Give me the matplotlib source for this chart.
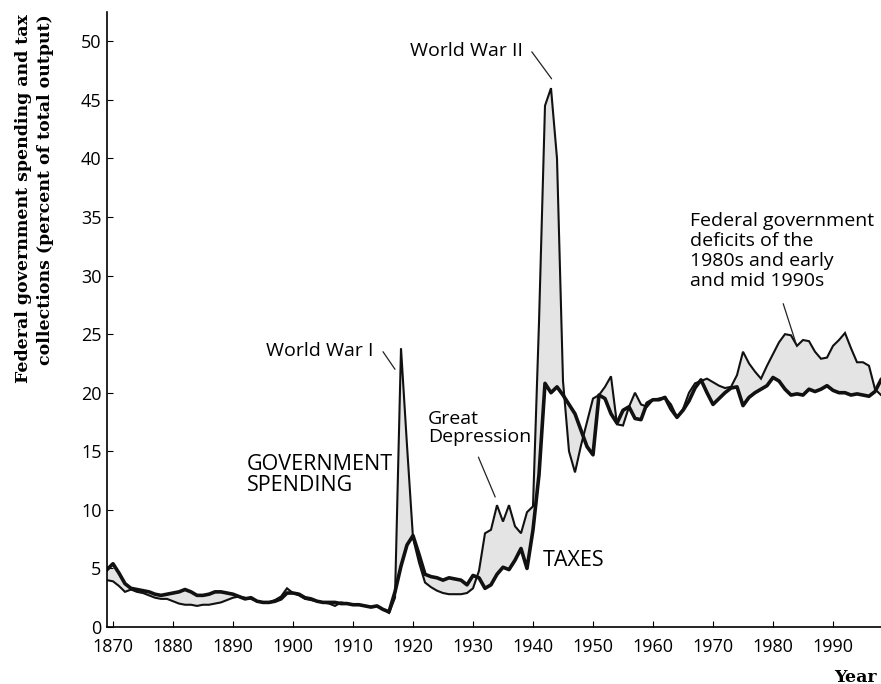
import numpy as np
import matplotlib
matplotlib.use("Agg")
import matplotlib.pyplot as plt

# ── Data (percent of total output), 1869-1998 ───────────────────────────────
years = np.arange(1869, 1999)

spending = [
    4.0, 3.9, 3.5, 3.0, 3.2, 3.0, 2.9, 2.7, 2.5, 2.4,          # 1869-1878
    2.4, 2.2, 2.0, 1.9, 1.9, 1.8, 1.9, 1.9, 2.0, 2.1,          # 1879-1888
    2.3, 2.5, 2.6, 2.5, 2.4, 2.2, 2.1, 2.1, 2.3, 2.6,          # 1889-1898
    3.3, 2.9, 2.7, 2.4, 2.3, 2.2, 2.1, 2.0, 1.8, 2.1,          # 1899-1908
    2.0, 1.9, 1.9, 1.8, 1.7, 1.8, 1.5, 1.2, 2.5, 23.8,         # 1909-1918
    15.5, 7.6, 5.5, 3.8, 3.4, 3.1, 2.9, 2.8, 2.8, 2.8,         # 1919-1928
    2.9, 3.3, 4.8, 8.0, 8.3, 10.4, 9.0, 10.4, 8.6, 8.0,        # 1929-1938
    9.8, 10.3, 26.0, 44.5, 46.0, 40.0, 21.0, 15.0, 13.2, 15.5,  # 1939-1948
    17.5, 19.5, 19.8, 20.5, 21.4, 17.3, 17.2, 18.8, 20.0, 19.0,  # 1949-1958
    18.8, 19.4, 19.5, 19.6, 19.0, 17.9, 18.6, 20.0, 20.8, 21.0,  # 1959-1968
    21.2, 20.9, 20.6, 20.4, 20.5, 21.5, 23.5, 22.5, 21.8, 21.2,  # 1969-1978
    22.3, 23.3, 24.3, 25.0, 24.9, 24.0, 24.5, 24.4, 23.5, 22.9,  # 1979-1988
    23.0, 24.0, 24.5, 25.1, 23.8, 22.6, 22.6, 22.3, 20.3, 19.8,  # 1989-1998
]

taxes = [
    4.9, 5.4, 4.6, 3.7, 3.3, 3.2, 3.1, 3.0, 2.8, 2.7,          # 1869-1878
    2.8, 2.9, 3.0, 3.2, 3.0, 2.7, 2.7, 2.8, 3.0, 3.0,          # 1879-1888
    2.9, 2.8, 2.6, 2.4, 2.5, 2.2, 2.1, 2.1, 2.2, 2.4,          # 1889-1898
    2.9, 2.9, 2.8, 2.5, 2.4, 2.2, 2.1, 2.1, 2.1, 2.0,          # 1899-1908
    2.0, 1.9, 1.9, 1.8, 1.7, 1.8, 1.5, 1.3, 3.0, 5.2,          # 1909-1918
    7.0, 7.8, 6.2, 4.5, 4.3, 4.2, 4.0, 4.2, 4.1, 4.0,          # 1919-1928
    3.6, 4.4, 4.2, 3.3, 3.6, 4.5, 5.1, 4.9, 5.7, 6.7,          # 1929-1938
    5.0, 8.3, 13.0, 20.8, 20.0, 20.5, 19.8, 19.0, 18.2, 16.8,  # 1939-1948
    15.4, 14.7, 19.8, 19.5, 18.2, 17.4, 18.5, 18.8, 17.8, 17.7,  # 1949-1958
    19.1, 19.4, 19.4, 19.6, 18.6, 17.9, 18.5, 19.3, 20.4, 21.1,  # 1959-1968
    20.0, 19.0, 19.5, 20.0, 20.4, 20.5, 18.9, 19.6, 20.0, 20.3,  # 1969-1978
    20.6, 21.3, 21.0, 20.3, 19.8, 19.9, 19.8, 20.3, 20.1, 20.3,  # 1979-1988
    20.6, 20.2, 20.0, 20.0, 19.8, 19.9, 19.8, 19.7, 20.1, 21.1,  # 1989-1998
]

x_ticks = list(range(1870, 1991, 10))
y_ticks = list(range(0, 51, 5))

SANS = "Open Sans"
SERIF = "DejaVu Serif"

fig = plt.figure(figsize=(8.81, 6.84), dpi=100)
ax = fig.add_axes([107 / 881, 57 / 684, 774 / 881, 615 / 684])

ax.fill_between(years, spending, taxes, color="#e4e4e4", lw=0)
ax.plot(years, spending, color="#111111", lw=1.5, solid_joinstyle="miter")
ax.plot(years, taxes, color="#111111", lw=2.6, solid_joinstyle="round")

ax.set_xlim(1869, 1998)
ax.set_ylim(0, 52.5)
ax.set_xticks(x_ticks)
ax.set_yticks(y_ticks)
ax.tick_params(axis="both", direction="in", length=4, width=0.8, labelsize=13)
ax.tick_params(axis="x", pad=8)
ax.tick_params(axis="y", pad=4)
for lab in ax.get_xticklabels() + ax.get_yticklabels():
    lab.set_family(SANS)
for side in ["top", "right"]:
    ax.spines[side].set_visible(False)
for side in ["left", "bottom"]:
    ax.spines[side].set_linewidth(1.2)

# axis titles
fig.text(24 / 881, 1 - 199 / 684, "Federal government spending and tax",
         rotation=90, ha="center", va="center", family=SERIF,
         fontweight="bold", fontsize=12.5)
fig.text(46 / 881, 1 - 190 / 684, "collections (percent of total output)",
         rotation=90, ha="center", va="center", family=SERIF,
         fontweight="bold", fontsize=12.5)
fig.text(855 / 881, 1 - 677 / 684, "Year", ha="center", va="center",
         family=SERIF, fontweight="bold", fontsize=12.5)

# annotations
lead = dict(arrowstyle="-", color="#222222", lw=0.9, shrinkA=0, shrinkB=0)
ax.annotate("", xy=(1943.1, 46.8), xytext=(1939.8, 49.1), arrowprops=lead)
ax.text(1929.0, 49.2, "World War II", family=SANS, fontsize=14,
        ha="center", va="center")

ax.annotate("", xy=(1917.0, 22.0), xytext=(1915.0, 23.5), arrowprops=lead)
ax.text(1904.5, 23.6, "World War I", family=SANS, fontsize=14,
        ha="center", va="center")

ax.annotate("", xy=(1933.7, 11.1), xytext=(1930.9, 14.5), arrowprops=lead)
ax.text(1922.5, 17.0, "Great\nDepression", family=SANS, fontsize=14,
        ha="left", va="center", linespacing=1.05)

ax.text(1892.3, 13.0, "GOVERNMENT\nSPENDING", family=SANS, fontsize=15.5,
        ha="left", va="center", linespacing=1.0)
ax.text(1941.7, 5.7, "TAXES", family=SANS, fontsize=15.5,
        ha="left", va="center")

ax.annotate("", xy=(1983.9, 24.1), xytext=(1981.7, 27.6), arrowprops=lead)
ax.text(1966.2, 32.1, "Federal government\ndeficits of the\n1980s and early\nand mid 1990s",
        family=SANS, fontsize=14, ha="left", va="center", linespacing=1.15)

fig.savefig("out.png", dpi=100)
